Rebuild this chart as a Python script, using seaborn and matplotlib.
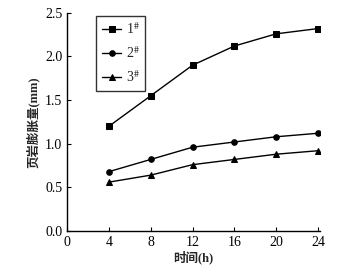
import seaborn as sns
import matplotlib.pyplot as plt
import pandas as pd

hours = [4, 8, 12, 16, 20, 24]
s1 = [1.20, 1.55, 1.90, 2.12, 2.26, 2.32]
s2 = [0.68, 0.82, 0.96, 1.02, 1.08, 1.12]
s3 = [0.56, 0.64, 0.76, 0.82, 0.88, 0.92]
labels = ["1$^{\\#}$", "2$^{\\#}$", "3$^{\\#}$"]
markers = ["s", "o", "^"]


def main():
    sns.set_style("ticks")
    plt.rcParams['font.family'] = ['Liberation Serif', 'Noto Sans CJK SC']
    plt.rcParams['mathtext.fontset'] = 'stix'
    plt.rcParams['xtick.direction'] = 'in'
    plt.rcParams['ytick.direction'] = 'in'

    df = pd.DataFrame({"h": hours * 3,
                       "v": s1 + s2 + s3,
                       "s": [labels[0]] * 6 + [labels[1]] * 6 + [labels[2]] * 6})

    fig = plt.figure(figsize=(3.51, 2.74), dpi=100)
    ax = fig.add_axes([0.191, 0.157, 0.721, 0.796])
    for lab, m in zip(labels, markers):
        d = df[df["s"] == lab]
        sns.lineplot(data=d, x="h", y="v", ax=ax, color="black", lw=1,
                     marker=m, markersize=4, markeredgecolor="black",
                     label=lab)

    ax.set_xlim(0, 24.2)
    ax.set_ylim(0, 2.5)
    ax.set_xticks([0, 4, 8, 12, 16, 20, 24])
    ax.set_yticks([0.0, 0.5, 1.0, 1.5, 2.0, 2.5])
    ax.set_yticklabels(["0.0", "0.5", "1.0", "1.5", "2.0", "2.5"])
    ax.tick_params(labelsize=10, length=3, width=0.8, colors="black")
    ax.set_xlabel("时间(h)", fontsize=9, labelpad=1, fontweight="bold")
    ax.set_ylabel("页岩膨胀量(mm)", fontsize=9, labelpad=4, fontweight="bold")
    for sp in ["top", "right"]:
        ax.spines[sp].set_visible(False)
    for sp in ["left", "bottom"]:
        ax.spines[sp].set_linewidth(1)
        ax.spines[sp].set_color("black")
    ax.legend(loc="upper left", bbox_to_anchor=(0.105, 1.0), fontsize=10,
              frameon=True, fancybox=False, edgecolor="black",
              handlelength=1.4, handletextpad=0.3, borderpad=0.4,
              labelspacing=0.6, borderaxespad=0.2)
    fig.savefig("out.png", dpi=100)


if __name__ == "__main__":
    main()
